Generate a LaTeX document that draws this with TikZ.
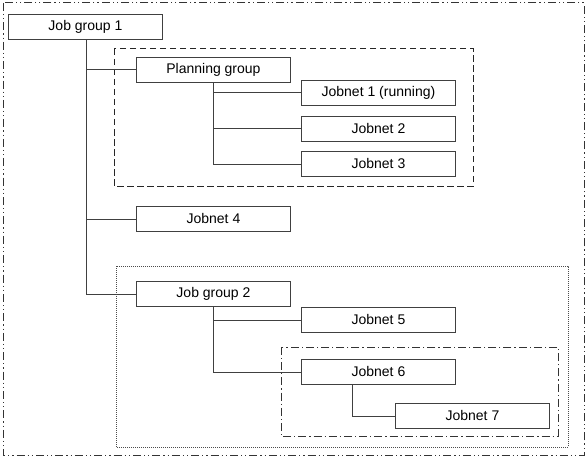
\documentclass[tikz,border=0pt]{standalone}
\usepackage{fontspec}
\setmainfont{Liberation Sans}
\usetikzlibrary{calc}
\begin{document}
\begin{tikzpicture}[x=1pt,y=-1pt,
  jobbox/.style={draw=black!75,line width=0.9pt,minimum width=154pt,minimum height=25pt,inner sep=0pt,font=\fontsize{14}{16}\selectfont,anchor=north west},
  conn/.style={draw=black!75,line width=0.9pt},
  outerline/.style={draw=black!80,line width=1pt,dash pattern=on 8pt off 3pt on 1.2pt off 3pt on 1.2pt off 3pt},
  dashline/.style={draw=black!85,line width=1pt,dash pattern=on 6.5pt off 3.5pt},
  dotline/.style={draw=black!70,line width=0.8pt,dash pattern=on 0.8pt off 1.2pt},
  dashdotline/.style={draw=black!80,line width=1pt,dash pattern=on 8pt off 3pt on 1.2pt off 3pt}]
\useasboundingbox (0,0) rectangle (587,460);
\fill[white] (0,0) rectangle (587,460);
% group frames
\draw[outerline] (3,3) rectangle (584,455);
\draw[dashline] (114,49) rectangle (473,186);
\draw[dotline] (116,266) rectangle (568,447);
\draw[dashdotline] (281,347) rectangle (558,436);
% nodes
\node[jobbox] (jg1) at (8,14) {Job group 1};
\node[jobbox] (pg) at (136,57) {Planning group};
\node[jobbox] (jn1) at (301,80) {Jobnet 1 (running)};
\node[jobbox] (jn2) at (301,116) {Jobnet 2};
\node[jobbox] (jn3) at (301,151) {Jobnet 3};
\node[jobbox] (jn4) at (136,206) {Jobnet 4};
\node[jobbox] (jg2) at (136,281) {Job group 2};
\node[jobbox] (jn5) at (301,307) {Jobnet 5};
\node[jobbox] (jn6) at (301,359) {Jobnet 6};
\node[jobbox] (jn7) at (395,403) {Jobnet 7};
% connectors
\coordinate (t1) at ($(jg1.south west)+(78,0)$);
\draw[conn] (t1) |- (jg2.west);
\draw[conn] (t1 |- pg.west) -- (pg.west);
\draw[conn] (t1 |- jn4.west) -- (jn4.west);
\draw[conn] (pg.south) |- (jn3.west);
\draw[conn] (pg.south |- jn1.west) -- (jn1.west);
\draw[conn] (pg.south |- jn2.west) -- (jn2.west);
\draw[conn] (jg2.south) |- (jn6.west);
\draw[conn] (jg2.south |- jn5.west) -- (jn5.west);
\coordinate (t6) at ($(jn6.south west)+(51,0)$);
\draw[conn] (t6) |- (jn7.west);
\end{tikzpicture}
\end{document}
